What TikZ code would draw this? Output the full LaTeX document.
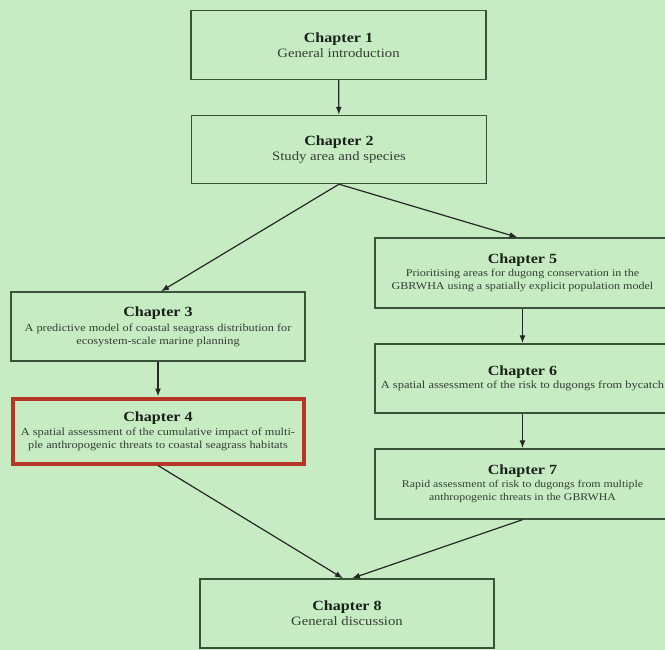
\documentclass[tikz,border=0pt]{standalone}
\usepackage{fontspec}
\setmainfont[FakeStretch=1.15]{Liberation Serif}
\usetikzlibrary{calc,arrows.meta}

\definecolor{bggreen}{RGB}{199,236,196}
\definecolor{edgegreen}{RGB}{58,82,58}
\definecolor{boxred}{RGB}{182,56,36}
\definecolor{inkgrey}{RGB}{52,62,52}
\definecolor{titleink}{RGB}{24,32,24}

\tikzset{
  chapbox/.style={draw=edgegreen, line width=1.4pt, minimum width=295pt,
    minimum height=69pt, align=center, inner sep=1pt, text=inkgrey},
  bigbody/.style={font=\fontsize{12.8}{15}\selectfont},
  smallbody/.style={font=\fontsize{#1}{13}\selectfont},
  smallbody/.default=10.5,
  link/.style={-{Latex[length=8pt,width=6pt]}, line width=1.2pt, black!85}
}

\begin{document}
\begin{tikzpicture}[x=1pt, y=-1pt]
      \fill[bggreen] (0,0) rectangle (665,650);
      \useasboundingbox (0,0) rectangle (665,650);

      % left column and middle
      \node[chapbox, bigbody] (ch1) at (338.5,45)
        {{\color{titleink}\bfseries\fontsize{14}{15}\selectfont Chapter 1}\\General introduction};
      \node[chapbox, bigbody, minimum height=68pt] (ch2) at (339,149.5)
        {{\color{titleink}\bfseries\fontsize{14}{15}\selectfont Chapter 2}\\Study area and species};
      \node[chapbox, smallbody=10.7, minimum width=294pt] (ch3) at (158,326.5)
        {{\color{titleink}\bfseries\fontsize{14}{15}\selectfont Chapter 3}\\[2pt]A predictive model of coastal seagrass distribution for\\ecosystem-scale marine planning};
      \node[chapbox, smallbody=10.7, draw=boxred, line width=4pt, minimum width=291pt, minimum height=65pt] (ch4) at (158,431)
        {{\color{titleink}\bfseries\fontsize{14}{15}\selectfont Chapter 4}\\[1pt]A spatial assessment of the cumulative impact of multi-\\ple anthropogenic threats to coastal seagrass habitats};

      % right column
      \node[chapbox, smallbody=10.5, minimum height=70pt] (ch5) at (522.5,273)
        {{\color{titleink}\bfseries\fontsize{14}{15}\selectfont Chapter 5}\\Prioritising areas for dugong conservation in the\\GBRWHA using a spatially explicit population model};
      \node[chapbox, smallbody=10.8] (ch6) at (522.5,378.5)
        {{\color{titleink}\bfseries\fontsize{14}{15}\selectfont Chapter 6}\\A spatial assessment of the risk to dugongs from bycatch};
      \node[chapbox, smallbody=10.3, minimum height=70pt] (ch7) at (522.5,484)
        {{\color{titleink}\bfseries\fontsize{14}{15}\selectfont Chapter 7}\\Rapid assessment of risk to dugongs from multiple\\anthropogenic threats in the GBRWHA};

      \node[chapbox, bigbody, minimum width=294pt] (ch8) at (347,613.5)
        {{\color{titleink}\bfseries\fontsize{14}{15}\selectfont Chapter 8}\\General discussion};

      \draw[link] (ch1) -- (ch2);
      \draw[link] (ch2.south) -- ($(ch3.north)+(3,0)$);
      \draw[link] (ch2.south) -- ($(ch5.north)+(-5,0)$);
      \draw[link] (ch3) -- (ch4);
      \draw[link] (ch5) -- (ch6);
      \draw[link] (ch6) -- (ch7);
      \draw[link] (ch4.south) -- ($(ch8.north)+(-4,0)$);
      \draw[link] (ch7.south) -- ($(ch8.north)+(5,0)$);
    \end{tikzpicture}
\end{document}
